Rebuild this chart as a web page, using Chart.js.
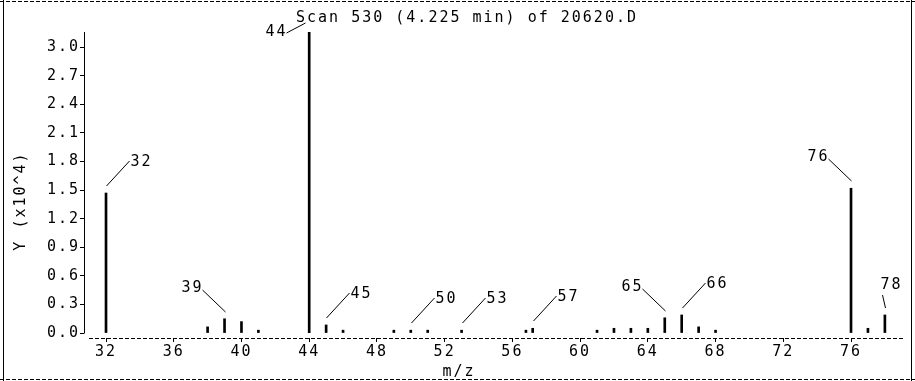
<!DOCTYPE html>
<html>
<head>
<meta charset="utf-8">
<title>Scan 530</title>
<script src="https://cdn.jsdelivr.net/npm/chart.js@4.4.1/dist/chart.umd.min.js"></script>
<style>
  html, body { margin: 0; padding: 0; background: #fff; }
</style>
</head>
<body>
<canvas id="spectrum" width="915" height="381"></canvas>
<script>
var chartTitle = 'Scan 530 (4.225 min) of 20620.D';
var xTitle = 'm/z';
var yTitle = 'Y (x10^4)';

// ions (m/z) and their abundance in counts
var mzValues  = [32, 38, 39, 40, 41, 44, 45, 46, 49, 50, 51, 53, 56.8, 57.2, 61, 62, 63, 64, 65, 66, 67, 68, 76, 77, 78];
var abundance = [14700, 650, 1500, 1200, 300, 31600, 850, 300, 300, 300, 300, 300, 300, 500, 300, 500, 500, 500, 1600, 1900, 650, 300, 15200, 500, 1900];

// peaks that get a number written next to them
var labelledPeaks = [32, 39, 44, 45, 50, 53, 57.2, 65, 66, 76, 78];
var peakNames     = ['32', '39', '44', '45', '50', '53', '57', '65', '66', '76', '78'];

var xTicks = [32, 36, 40, 44, 48, 52, 56, 60, 64, 68, 72, 76];
var yTicks = [0, 3000, 6000, 9000, 12000, 15000, 18000, 21000, 24000, 27000, 30000];

var FONT = '15px "DejaVu Sans Mono"';
var SPACING = '2px';

// which way the leader line runs from the peak to its number
var leaderKind = {
	'32': 'ur', '39': 'ul', '44': 'l', '45': 'ur', '50': 'ur', '53': 'ur',
	'57': 'ur', '65': 'ul', '66': 'ur', '76': 'ul', '78': 'u'
};

function line(ctx, x1, y1, x2, y2) {
	ctx.beginPath();
	ctx.moveTo(x1, y1);
	ctx.lineTo(x2, y2);
	ctx.stroke();
}

var spacingPlugin = {
	id: 'spacing',
	beforeUpdate: function(chart) { chart.ctx.letterSpacing = SPACING; },
	beforeDraw: function(chart) { chart.ctx.letterSpacing = SPACING; }
};

var decorPlugin = {
	id: 'decor',
	afterDatasetsDraw: function(chart) {
		var ctx = chart.ctx;
		var xs = chart.scales.x, ys = chart.scales.y;
		var area = chart.chartArea;
		ctx.save();
		ctx.letterSpacing = SPACING;
		ctx.strokeStyle = '#000';
		ctx.fillStyle = '#000';
		ctx.lineWidth = 1;
		ctx.font = FONT;
		ctx.textBaseline = 'middle';

		// y axis stops at zero, the dashed m/z axis sits a little below it
		var zeroY = Math.round(ys.getPixelForValue(0)) + 0.5;
		line(ctx, area.left + 0.5, area.top, area.left + 0.5, zeroY);
		ctx.setLineDash([4, 2]);
		line(ctx, area.left + 5, area.bottom + 0.5, area.right, area.bottom + 0.5);
		ctx.setLineDash([]);

		for (var i = 0; i < labelledPeaks.length; i++) {
			var idx = mzValues.indexOf(labelledPeaks[i]);
			var px = Math.round(xs.getPixelForValue(mzValues[idx])) + 0.5;
			var py = Math.round(ys.getPixelForValue(abundance[idx]));
			var name = peakNames[i];
			var k = leaderKind[name];
			if (k == 'ur') {
				line(ctx, px, py - 7, px + 23, py - 32);
				ctx.textAlign = 'left';
				ctx.fillText(name, px + 24, py - 31);
			} else if (k == 'ul') {
				line(ctx, px, py - 7, px - 23, py - 29);
				ctx.textAlign = 'right';
				ctx.fillText(name, px - 22, py - 31);
			} else if (k == 'l') {
				line(ctx, px - 23, py + 1, px - 4, py - 9);
				ctx.textAlign = 'right';
				ctx.fillText(name, px - 22, py);
			} else {
				line(ctx, px, py - 7, px - 3, py - 20);
				ctx.textAlign = 'left';
				ctx.fillText(name, px - 5, py - 30);
			}
		}

		// title and axis names
		ctx.textAlign = 'center';
		ctx.fillText(chartTitle, 467, 18);
		ctx.fillText(xTitle, 459, 372);
		ctx.save();
		ctx.translate(21, 201);
		ctx.rotate(-Math.PI / 2);
		ctx.fillText(yTitle, 0, 0);
		ctx.restore();

		// outer frame
		ctx.beginPath();
		ctx.moveTo(3.5, 0); ctx.lineTo(3.5, 381);
		ctx.moveTo(911.5, 0); ctx.lineTo(911.5, 381);
		ctx.stroke();
		ctx.setLineDash([4, 2]);
		line(ctx, 0, 1.5, 915, 1.5);
		line(ctx, 0, 379.5, 915, 379.5);
		ctx.restore();
	}
};

new Chart(document.getElementById('spectrum'), {
	type: 'bar',
	data: {
		datasets: [{
			data: mzValues.map(function(m, i) { return { x: m, y: abundance[i] }; }),
			backgroundColor: '#000',
			borderWidth: 0,
			barThickness: 2
		}]
	},
	options: {
		responsive: false,
		animation: false,
		layout: { padding: { left: 0, right: 12, top: 32, bottom: 0 } },
		plugins: {
			legend: { display: false },
			tooltip: { enabled: false }
		},
		scales: {
			x: {
				type: 'linear',
				offset: false,
				min: 30.7,
				max: 79.07,
				afterFit: function(scale) { scale.height = 43; },
				afterBuildTicks: function(scale) {
					scale.ticks = xTicks.map(function(v) { return { value: v }; });
				},
				grid: { drawOnChartArea: false, offset: false, tickLength: 4, color: '#000' },
				border: { display: false },
				ticks: {
					color: '#000',
					font: { family: 'DejaVu Sans Mono', size: 15 },
					padding: 1,
					maxRotation: 0,
					autoSkip: false
				}
			},
			y: {
				min: -520,
				max: 31600,
				afterFit: function(scale) { scale.width = 84; },
				afterBuildTicks: function(scale) {
					scale.ticks = yTicks.map(function(v) { return { value: v }; });
				},
				grid: { drawOnChartArea: false, tickLength: 4, color: '#000' },
				border: { display: false },
				ticks: {
					color: '#000',
					font: { family: 'DejaVu Sans Mono', size: 15 },
					padding: 0,
					callback: function(v) { return (v / 10000).toFixed(1); }
				}
			}
		}
	},
	plugins: [spacingPlugin, decorPlugin]
});
</script>
</body>
</html>
